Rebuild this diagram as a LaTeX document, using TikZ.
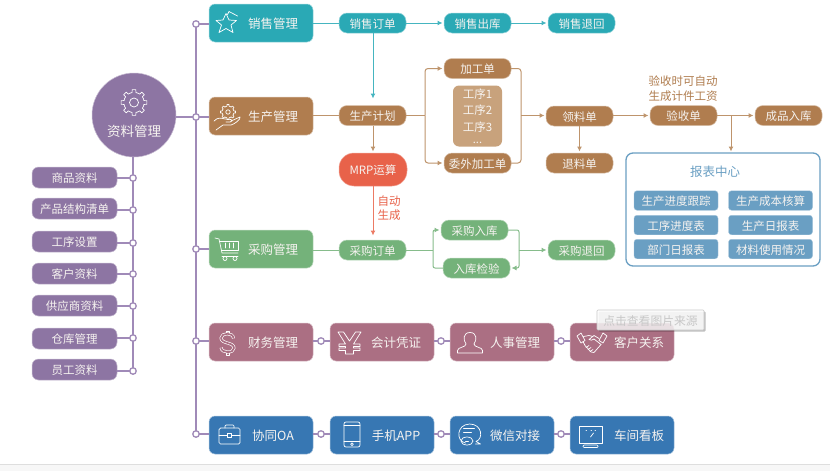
\documentclass[tikz,border=0pt]{standalone}
\usepackage{fontspec}
\setmainfont{Noto Sans CJK SC}
\usetikzlibrary{arrows.meta,shadows,calc}
\definecolor{teal1}{HTML}{2AA9B5}
\definecolor{brown1}{HTML}{B07D4F}
\definecolor{green1}{HTML}{74B27A}
\definecolor{rose1}{HTML}{AB6F83}
\definecolor{blue1}{HTML}{3777B3}
\definecolor{purple1}{HTML}{8D75A3}
\definecolor{spine}{HTML}{A08AB8}
\definecolor{rep}{HTML}{6A9FC3}
\definecolor{mrp}{HTML}{E8624A}
\definecolor{proc}{HTML}{C8A27C}
\definecolor{txt}{HTML}{F6F3F0}
\definecolor{lteal}{HTML}{45B5C0}
\definecolor{lbrown}{HTML}{BE946C}
\definecolor{lgreen}{HTML}{86BC8B}
\definecolor{lmrp}{HTML}{EC7A64}
\tikzset{
  x=1pt,y=-1pt,
  every node/.style={outer sep=0pt,inner sep=0pt,text=txt},
  bigbox/.style={rounded corners=6,minimum width=104,minimum height=38,draw=#1!45!white,fill=#1,line width=.5,font=\fontsize{12.5}{14}\selectfont,text height=13pt,text depth=1.5pt},
  flowbox/.style={rounded corners=8,minimum width=67,minimum height=20,draw=#1!50!white,fill=#1,line width=.5,font=\fontsize{11.5}{13}\selectfont,text height=12.2pt,text depth=1.4pt},
  listbox/.style={rounded corners=6.5,minimum width=85,minimum height=21,draw=purple1!50!white,fill=purple1,line width=.5,font=\fontsize{11.5}{13}\selectfont,text height=12.2pt,text depth=1.4pt},
  repbox/.style={rounded corners=3,minimum width=84,minimum height=19.5,draw=rep!60!white,fill=rep,line width=.4,font=\fontsize{11.5}{13}\selectfont,text height=12.2pt,text depth=1.4pt},
  junc/.style={circle,draw=spine,fill=white,line width=1.3,minimum size=6.5},
  spineline/.style={draw=spine,line width=1.3},
  link/.style={draw=#1,line width=1},
  arr/.style={draw=#1,line width=1,-{Latex[length=5pt,width=5pt]},shorten >=1.5pt},
  icon/.style={draw=white,line width=.7,line join=round,line cap=round},
  dbl/.style={draw=white,line width=.65,double=#1,double distance=1.7pt,line join=round},
  note/.style={font=\fontsize{11.5}{14.5}\selectfont,align=center,text=#1},
}
\newcommand{\geartooth}[4]{%
  \begin{scope}[shift={(#1,#2)}]
  \foreach \a in {0,45,...,315}{
    \draw[icon] (\a-22.5:#3*.78) -- (\a-11:#3*.78) -- (\a-8:#3) -- (\a+8:#3) -- (\a+11:#3*.78) -- (\a+22.5:#3*.78);
  }
  \draw[icon] (0,0) circle[radius=#4];
  \end{scope}}
\begin{document}
\begin{tikzpicture}
\useasboundingbox (0,0) rectangle (830,471);
\fill[white] (0,0) rectangle (830,471);
\fill[black!3] (0,464.5) rectangle (830,471);
\draw[black!13,line width=.8] (0,464.5) -- (830,464.5);

% centre
\node[circle,fill=purple1,draw=purple1!50!white,line width=.5,minimum size=84] (main) at (134,115) {};
\node[font=\fontsize{13.5}{15}\selectfont] (maintext) at (134,131.5) {资料管理};

% spine
\node[junc] (j1) at (196,24) {};
\node[junc] (j2) at (196,117) {};
\node[junc] (j3) at (196,249) {};
\node[junc] (j4) at (196,341) {};
\node[junc] (j5) at (196,434) {};
\draw[spineline] (j1)--(j2);\draw[spineline] (j2)--(j3);\draw[spineline] (j3)--(j4);\draw[spineline] (j4)--(j5);
\draw[spineline] (j2)--(main.east |- j2);

% main modules
\node[bigbox=teal1] (sales) at (261,23) {\hspace*{24pt}销售管理};
\node[bigbox=brown1] (prod) at (261,116) {\hspace*{24pt}生产管理};
\node[bigbox=green1] (buy) at (261,249) {\hspace*{24pt}采购管理};
\node[bigbox=rose1] (fin) at (261,342) {\hspace*{24pt}财务管理};
\node[bigbox=rose1] (acc) at (382,342) {\hspace*{28pt}会计凭证};
\node[bigbox=rose1] (hr) at (502,342) {\hspace*{26pt}人事管理};
\node[bigbox=rose1] (crm) at (622,342) {\hspace*{34pt}客户关系};
\node[bigbox=blue1] (oa) at (261,435) {\hspace*{24pt}协同OA};
\node[bigbox=blue1] (app) at (382,435) {\hspace*{28pt}手机APP};
\node[bigbox=blue1] (wx) at (502,435) {\hspace*{26pt}微信对接};
\node[bigbox=blue1] (kb) at (622,435) {\hspace*{34pt}车间看板};
\draw[spineline] (j1)--(sales.west |- j1);
\draw[spineline] (j2)--(prod.west |- j2);
\draw[spineline] (j3)--(buy.west |- j3);
\draw[spineline] (j4)--(fin.west |- j4);
\draw[spineline] (j5)--(oa.west |- j5);
\node[junc] (r1) at (321,341) {};
\node[junc] (r2) at (441,341) {};
\node[junc] (r3) at (561,341) {};
\node[junc] (b1) at (321,434) {};
\node[junc] (b2) at (441,434) {};
\node[junc] (b3) at (561,434) {};
\draw[spineline] (fin.east |- r1)--(r1);\draw[spineline] (r1)--(acc.west |- r1);
\draw[spineline] (acc.east |- r2)--(r2);\draw[spineline] (r2)--(hr.west |- r2);
\draw[spineline] (hr.east |- r3)--(r3);\draw[spineline] (r3)--(crm.west |- r3);
\draw[spineline] (oa.east |- b1)--(b1);\draw[spineline] (b1)--(app.west |- b1);
\draw[spineline] (app.east |- b2)--(b2);\draw[spineline] (b2)--(wx.west |- b2);
\draw[spineline] (wx.east |- b3)--(b3);\draw[spineline] (b3)--(kb.west |- b3);

% left list
\node[listbox] (l1) at (74.5,177.5) {商品资料};
\node[listbox] (l2) at (74.5,208.5) {产品结构清单};
\node[listbox] (l3) at (74.5,241.5) {工序设置};
\node[listbox] (l4) at (74.5,273.5) {客户资料};
\node[listbox] (l5) at (74.5,305.5) {供应商资料};
\node[listbox] (l6) at (74.5,338.5) {仓库管理};
\node[listbox] (l7) at (74.5,369.5) {员工资料};
\node[junc] (k1) at (133,178) {};
\node[junc] (k2) at (133,210) {};
\node[junc] (k3) at (133,243) {};
\node[junc] (k4) at (133,274) {};
\node[junc] (k5) at (133,306) {};
\node[junc] (k6) at (133,338) {};
\node[junc] (k7) at (133,371) {};
\draw[spineline] (k1 |- main.south)--(k1);
\draw[spineline] (k1)--(k2);\draw[spineline] (k2)--(k3);\draw[spineline] (k3)--(k4);\draw[spineline] (k4)--(k5);\draw[spineline] (k5)--(k6);\draw[spineline] (k6)--(k7);
\foreach \i in {1,...,7}{\draw[spineline] (l\i.east |- k\i)--(k\i);}

% sales flow
\node[flowbox=teal1] (so) at (372.5,23) {销售订单};
\node[flowbox=teal1] (sout) at (477.5,23) {销售出库};
\node[flowbox=teal1] (sret) at (581.5,23) {销售退回};
\draw[link=lteal] (sales.east |- so)--(so.west);
\draw[arr=lteal] (so.east)--(sout.west);
\draw[arr=lteal] (sout.east)--(sret.west);

% production flow
\node[flowbox=brown1] (plan) at (372.5,115.5) {生产计划};
\node[flowbox=brown1] (jg) at (477.5,68.5) {加工单};
\node[flowbox=brown1] (ww) at (477.5,163) {委外加工单};
\node[rounded corners=6,fill=proc,minimum width=49,minimum height=61,font=\fontsize{11.5}{16.5}\selectfont,align=center] (steps) at (477.5,116) {工序1\\工序2\\工序3\\[-4pt]{\fontsize{11}{8}\selectfont ...}};
\node[flowbox=brown1] (ll) at (579.5,116) {领料单};
\node[flowbox=brown1] (tl) at (579.5,163) {退料单};
\node[flowbox=brown1] (ys) at (683.5,115.5) {验收单};
\node[flowbox=brown1] (cp) at (788.5,115.5) {成品入库};
\node[note=brown1] (ysnote) at (683,88.5) {验收时可自动\\生成计件工资};
\node[rounded corners=15,minimum width=68,minimum height=33,fill=mrp,draw=mrp!60!white,line width=.5,font=\fontsize{11.5}{13}\selectfont,text height=12.2pt,text depth=1.4pt] (mrpn) at (373,169.5) {MRP运算};
\draw[link=lbrown] (prod.east |- plan)--(plan.west);
\coordinate (planin) at (373,98.5);
\draw[arr=lteal,shorten >=0pt] (so.south -| planin)--(planin);
\draw[arr=lbrown] (plan.south -| mrpn)--(mrpn.north);
\coordinate (fork) at (425,115.5);
\coordinate (merge) at (521,115.5);
\draw[link=lbrown] (plan.east)--(fork);
\draw[arr=lbrown,rounded corners=3] (fork) |- (jg.west);
\draw[arr=lbrown,rounded corners=3] (fork) |- (ww.west);
\draw[link=lbrown,rounded corners=3] (jg.east) -| (merge) |- (ww.east);
\draw[arr=lbrown] (merge)--(ll.west |- merge);
\draw[arr=lbrown] (ll.south)--(tl.north);
\draw[arr=lbrown] (ll.east |- ys)--(ys.west);
\draw[arr=lbrown] (ys.east)--(cp.west);
\coordinate (down) at (731,115.5);

% report
\node[rounded corners=7,draw=rep,line width=1.3,fill=white,minimum width=194,minimum height=113] (report) at (723,209.5) {};
\node[font=\fontsize{12.5}{14}\selectfont,text=rep] (reptitle) at (715,171.5) {报表中心};
\draw[arr=lbrown] (down)--(down |- report.north);
\node[repbox] (p1) at (676,200.5) {生产进度跟踪};
\node[repbox] (p2) at (770.5,200.5) {生产成本核算};
\node[repbox] (p3) at (676,225) {工序进度表};
\node[repbox] (p4) at (770.5,225) {生产日报表};
\node[repbox] (p5) at (676,249) {部门日报表};
\node[repbox] (p6) at (770.5,249) {材料使用情况};

% purchase flow
\node[flowbox=green1] (po) at (372.5,250) {采购订单};
\node[flowbox=green1] (pin) at (474.5,230) {采购入库};
\node[flowbox=green1] (pck) at (476.5,268) {入库检验};
\node[flowbox=green1] (pret) at (581.5,250) {采购退回};
\draw[link=lgreen] (buy.east |- po)--(po.west);
\coordinate (poin) at (373,235.5);
\draw[arr=lmrp,shorten >=0pt] (mrpn.south -| poin)--(poin);
\node[note=mrp,font=\fontsize{11.5}{13.5}\selectfont] (mrpnote) at (389,208) {自动\\生成};
\coordinate (pfork) at (433,250);
\coordinate (pmerge) at (519,250);
\draw[link=lgreen] (po.east)--(pfork);
\draw[arr=lgreen,rounded corners=2] (pfork) |- (pin.west);
\draw[link=lgreen,rounded corners=2] (pfork) |- (pck.west);
\draw[link=lgreen,rounded corners=2] (pin.east) -| (pmerge);
\draw[arr=lgreen,rounded corners=2] (pmerge) |- (pck.east);
\draw[arr=lgreen] (pmerge)--(pret.west);

% ---- icons ----
% star
\begin{scope}[shift={(226.5,23.5)}]
\draw[icon] (-10.5,-3) -- (-3.5,-3.5) -- (-.5,-10) -- (2.5,-3.5) -- (10,-3) -- (4.5,1.5) -- (6.5,9) -- (-.5,5) -- (-7.5,9) -- (-5,1.5) -- cycle;
\draw[icon] (1,-9) -- (2.5,-12) -- (11,-7.5);
\end{scope}
% gears
\geartooth{134}{102.5}{13}{4.5}
\geartooth{228}{112}{7.5}{2.2}
% hand
\begin{scope}[shift={(228,124)}]
\draw[icon] (-14,-3) .. controls (-10,-7) and (-7,-6) .. (-3,-5) -- (3,-4.5) .. controls (5,-4) and (4,-2) .. (2,-2) -- (-2,-2);
\draw[icon] (3,-3) -- (12,-7) .. controls (13,-5) and (7,0) .. (3,1) -- (-5,1) -- (-12,6);
\end{scope}
% cart
\begin{scope}[shift={(215,238)}]
\draw[icon] (0,0) -- (4,1) -- (7,15) -- (23,15);
\draw[icon] (5,3) -- (23,3) -- (23,12) -- (7,12);
\draw[icon] (10,5) -- (10,10) (14,5) -- (14,10) (18,5) -- (18,10);
\draw[icon] (7,18) -- (23,18);
\draw[icon] (10,20.5) circle[radius=2] (20,20.5) circle[radius=2];
\end{scope}
% dollar
\begin{scope}[shift={(227.5,343)}]
\draw[icon] (-1.5,-12) rectangle (1.5,-9) (-1.5,9) rectangle (1.5,12);
\draw[dbl=rose1] (6,-4.5) .. controls (6,-11) and (-6.5,-10.5) .. (-6.5,-5) .. controls (-6.5,1) and (6.5,-1) .. (6.5,5) .. controls (6.5,10.5) and (-6,10.5) .. (-6.5,4.5);
\end{scope}
% yen
\begin{scope}[shift={(349.5,343)}]
\draw[icon] (-11.5,-11)--(-6,-11)--(0,-2)--(6,-11)--(11.5,-11)--(4,1)--(10.5,1)--(10.5,3.5)--(4,3.5)--(4,5)--(10.5,5)--(10.5,7.5)--(4,7.5)--(4,11)--(-4,11)--(-4,7.5)--(-10.5,7.5)--(-10.5,5)--(-4,5)--(-4,3.5)--(-10.5,3.5)--(-10.5,1)--(-4,1)--cycle;
\end{scope}
% person
\begin{scope}[shift={(470,343)}]
\draw[icon] (-12.5,10) -- (12.5,10) -- (12.5,7.5) .. controls (12.5,4) and (4,4.5) .. (4,1) .. controls (7,-3) and (7,-10.5) .. (0,-10.5) .. controls (-7,-10.5) and (-7,-3) .. (-4,1) .. controls (-4,4.5) and (-12.5,4) .. (-12.5,7.5) -- cycle;
\end{scope}
% handshake
\begin{scope}[shift={(592,342.5)}]
\draw[icon] (-15,-6.5) -- (-11,-9.5) -- (-7,-2) -- (-11,.5) -- cycle;
\draw[icon] (15,-6.5) -- (11,-9.5) -- (7,-2) -- (11,.5) -- cycle;
\draw[icon] (-8.5,-6) -- (-3,-7) -- (1,-6) (7,-4) -- (2,-7) -- (-3,-3) .. controls (-2,-1) and (1,-3) .. (2,-3.5) -- (9,2);
\draw[icon] (-9,-1) -- (-7,3) -- (-1,9.5) -- (2,10) -- (9,2);
\draw[icon] (-6,5) -- (-3,3) (-4,7) -- (-1,5) (-2,9) -- (1,7);
\end{scope}
% briefcase
\begin{scope}[shift={(229.5,434.5)}]
\draw[icon,rounded corners=1.5] (-10.5,-6.5) rectangle (10.5,9.5);
\draw[icon] (-10.5,.5) -- (-2,.5) (2,.5) -- (10.5,.5);
\draw[icon] (-2,-1) rectangle (2,2.5);
\draw[icon,rounded corners=1] (-4.5,-6.5) -- (-4.5,-9.5) -- (4.5,-9.5) -- (4.5,-6.5);
\end{scope}
% phone
\begin{scope}[shift={(352,434.5)}]
\draw[icon,rounded corners=2] (-8,-12.5) rectangle (8,12.5);
\draw[icon] (-8,-9) -- (8,-9) (-8,7) -- (8,7);
\draw[icon] (0,9.8) circle[radius=1.4];
\end{scope}
% chat
\begin{scope}[shift={(469.5,433)}]
\draw[icon] (-4,10) .. controls (-14,8) and (-13,-8.5) .. (0,-9) .. controls (13,-9) and (14,6) .. (6.5,8.5) -- (11,11) -- (6,11);
\draw[icon] (-6,-4.5) -- (5,-4.5) (-6,-1) -- (2,-1);
\draw[icon] (-2.5,8) ellipse[x radius=6,y radius=4];
\draw[icon] (-4,8) -- (-1,8);
\end{scope}
% monitor
\begin{scope}[shift={(590.5,436)}]
\draw[icon] (-11.5,-10) rectangle (11.5,7);
\draw[icon] (-4.5,-6) -- (-4,-6) (.5,-6) -- (1,-6) (4.5,-6) -- (5,-6);
\draw[icon] (3,-3) -- (0,1);
\draw[icon,rounded corners=1] (-7.5,9) rectangle (7.5,11.5);
\end{scope}

% tooltip
\node[rounded corners=1,draw=black!22,line width=.6,fill=white,fill opacity=.82,text opacity=1,
  drop shadow={shadow xshift=1.5pt,shadow yshift=-1.5pt,opacity=.25,fill=black},
  minimum width=107,minimum height=20,text=black!22,font=\fontsize{11.8}{13}\selectfont,text height=12.8pt,text depth=1.4pt] (tip) at (650.5,320) {点击查看图片来源};
\end{tikzpicture}
\end{document}
